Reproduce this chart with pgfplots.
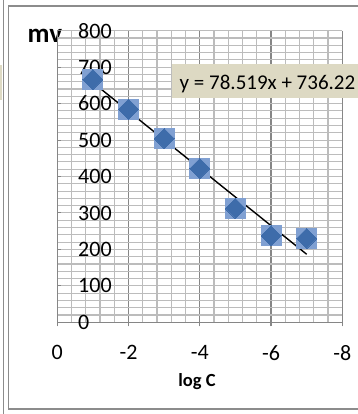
\documentclass[border=0pt]{standalone}
\usepackage{pgfplots}
\usepackage{pgfplotstable}
\pgfplotsset{compat=1.18}
\usepackage{fontspec}
\setmainfont{Carlito}

\definecolor{gridminor}{RGB}{188,188,188}
\definecolor{gridmajor}{RGB}{134,134,134}
\definecolor{framegray}{RGB}{140,140,140}
\definecolor{eqbox}{RGB}{221,217,195}
\definecolor{markhalo}{RGB}{128,160,210}
\definecolor{markcore}{RGB}{62,108,170}

% potential (mV) against log of concentration
\pgfplotstableread{
logC mv
-1 666
-2 585
-3 504
-4 422
-5 312
-6 237
-7 230
}\measured

% least-squares line y = 78.519x + 736.22 at its two ends
\pgfplotstableread{
logC mv
-1 657.70
-7 186.59
}\fitline

\begin{document}
\begin{tikzpicture}
\useasboundingbox (0,0) rectangle (358bp,414bp);
\clip (0,0) rectangle (358bp,414bp);
\fill[white] (0,0) rectangle (358bp,414bp);
% edge of the neighbouring chart
\fill[eqbox] (0,314bp) rectangle (2.2bp,349bp);
\draw[framegray, line width=1.2bp] (3.3bp,0) -- (3.3bp,414bp);
% chart area border
\draw[framegray, line width=1.6bp] (370bp,5bp) -- (8.3bp,5bp) -- (8.3bp,408bp) -- (370bp,408bp);

\node[anchor=base west, inner sep=0pt, font=\bfseries\fontsize{27bp}{27bp}\selectfont] at (27.5bp,371bp) {mv};

\begin{axis}[
  at={(57.3bp,91.7bp)}, anchor=south west,
  scale only axis, width=285bp, height=291.6bp,
  xmin=-8, xmax=0, ymin=0, ymax=800,
  x dir=reverse,
  axis lines*=left,
  xtick={0,-2,-4,-6,-8}, xticklabels={0,-2,-4,-6,-8},
  ytick={0,100,200,300,400,500,600,700,800},
  yticklabels={0,100,200,300,400,500,600,700,800},
  minor x tick num=4, minor y tick num=4,
  grid=both,
  major x grid style={gridmajor, line width=1.1bp},
  minor x grid style={gridminor, line width=1.1bp},
  major y grid style={gridminor, line width=1.1bp},
  minor y grid style={gridminor, line width=1.1bp},
  axis line style={gridmajor, line width=1.1bp},
  xtick align=outside, ytick align=inside,
  major tick length=4bp, minor tick length=0pt,
  tick style={gridmajor, line width=1.1bp},
  ticklabel style={font=\fontsize{22bp}{22bp}\selectfont, inner sep=0pt},
  yticklabel style={anchor=west, xshift=20.7bp},
  xticklabel style={anchor=north, yshift=-19bp},
  clip=false,
]
\addplot[only marks, color=markhalo, mark=square*, mark size=10bp,
  mark options={line width=0pt, draw=markhalo, fill=markhalo}] table[x=logC, y=mv] {\measured};
\addplot[only marks, color=markcore, mark=square*, mark size=7.07bp,
  mark options={line width=0pt, draw=markcore, fill=markcore, rotate=45}] table[x=logC, y=mv] {\measured};
\addplot[black, line width=1.4bp] table[x=logC, y=mv] {\fitline};
\end{axis}

\node[anchor=base, inner sep=0pt, font=\bfseries\fontsize{18.5bp}{18.5bp}\selectfont] at (197bp,27.3bp) {log C};

\fill[eqbox] (172bp,316bp) rectangle (370bp,350bp);
\node[anchor=base west, inner sep=0pt, font=\fontsize{21bp}{21bp}\selectfont] at (179.5bp,324bp) {y = 78.519x + 736.22};
\end{tikzpicture}
\end{document}
